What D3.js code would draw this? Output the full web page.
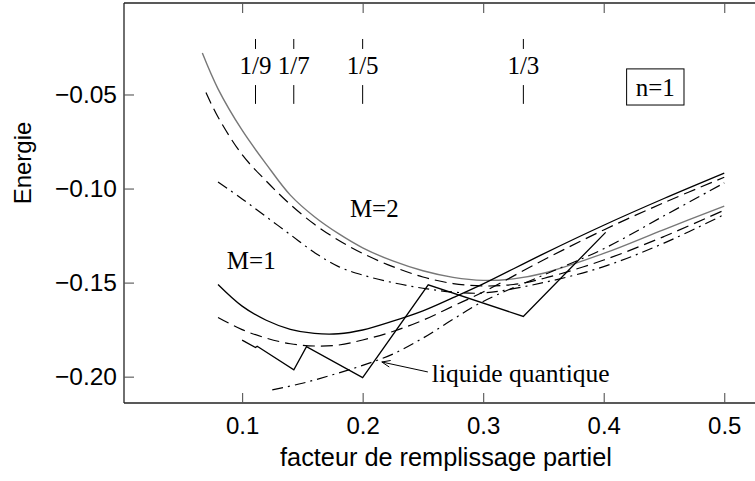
<!DOCTYPE html>
<html>
<head>
<meta charset="utf-8">
<script src="https://cdn.jsdelivr.net/npm/d3@7"></script>
<style>
  html, body { margin: 0; padding: 0; background: #fff; }
  svg { display: block; }
</style>
</head>
<body>
<div id="chart"></div>
<script>
// ---------- data ----------
const xTicks = [0.1, 0.2, 0.3, 0.4, 0.5];
const yTicks = [-0.05, -0.10, -0.15, -0.20];
const yTickLabels = ["\u22120.05", "\u22120.10", "\u22120.15", "\u22120.20"];
const fractions = [1/9, 1/7, 1/5, 1/3];
const fractionLabels = ["1/9", "1/7", "1/5", "1/3"];

// M=2 family
const m2SolidX = [0.067, 0.08, 0.10, 0.12, 0.14, 0.16, 0.18, 0.20, 0.225, 0.25, 0.275, 0.30, 0.325, 0.35, 0.40, 0.45, 0.50];
const m2SolidY = [-0.028, -0.047, -0.069, -0.087, -0.1035, -0.1150, -0.1240, -0.1315, -0.1385, -0.1437, -0.1472, -0.1488, -0.1480, -0.1450, -0.1345, -0.1218, -0.1093];
const m2DashX = [0.07, 0.08, 0.10, 0.12, 0.14, 0.16, 0.18, 0.20, 0.225, 0.25, 0.275, 0.30, 0.325, 0.35, 0.40, 0.45, 0.50];
const m2DashY = [-0.049, -0.062, -0.082, -0.096, -0.1085, -0.1190, -0.1275, -0.1345, -0.1415, -0.1470, -0.1505, -0.1518, -0.1510, -0.1478, -0.1380, -0.1255, -0.1115];
const m2DotX = [0.08, 0.10, 0.12, 0.14, 0.16, 0.18, 0.20, 0.225, 0.25, 0.275, 0.30, 0.35, 0.40, 0.45, 0.50];
const m2DotY = [-0.0965, -0.1055, -0.115, -0.1245, -0.134, -0.1415, -0.146, -0.150, -0.153, -0.155, -0.1555, -0.150, -0.1415, -0.129, -0.1138];

// M=1 family
const m1SolidX = [0.08, 0.10, 0.12, 0.14, 0.16, 0.18, 0.20, 0.225, 0.25, 0.275, 0.30, 0.35, 0.40, 0.45, 0.50];
const m1SolidY = [-0.151, -0.1625, -0.170, -0.1748, -0.177, -0.1772, -0.1752, -0.1705, -0.165, -0.158, -0.1507, -0.1347, -0.1195, -0.1053, -0.0918];
const m1DashX = [0.08, 0.10, 0.12, 0.14, 0.16, 0.18, 0.20, 0.225, 0.25, 0.275, 0.30, 0.35, 0.40, 0.45, 0.50];
const m1DashY = [-0.1685, -0.175, -0.1795, -0.1825, -0.1837, -0.1832, -0.1805, -0.176, -0.170, -0.1625, -0.155, -0.138, -0.122, -0.1075, -0.094];
const m1DotX = [0.125, 0.15, 0.175, 0.20, 0.225, 0.25, 0.275, 0.30, 0.35, 0.40, 0.45, 0.50];
const m1DotY = [-0.207, -0.2035, -0.199, -0.194, -0.188, -0.1795, -0.1695, -0.160, -0.146, -0.132, -0.1145, -0.097];

// liquide quantique (zigzag)
const lqX = [0.10, 0.1111, 0.1125, 0.1429, 0.1534, 0.20, 0.2544, 0.3333, 0.4016];
const lqY = [-0.1806, -0.1845, -0.1838, -0.1963, -0.1840, -0.2005, -0.1512, -0.1680, -0.1233];

// ---------- layout ----------
const W = 755, H = 481;
const svg = d3.select("#chart").append("svg").attr("width", W).attr("height", H);
svg.append("rect").attr("width", W).attr("height", H).attr("fill", "#fff");

const x = d3.scaleLinear().domain([0.002, 0.5363]).range([124, 768]);
const y = d3.scaleLinear().domain([-0.214, -0.00137]).range([403, 3]);

const sans = "'Liberation Sans', Arial, Helvetica, sans-serif";
const serif = "'Liberation Serif', 'Times New Roman', Times, serif";

// axes
const axisColor = "#222";
const xb = d3.axisBottom(x).tickValues(xTicks).tickSize(-10).tickFormat(d3.format(".1f")).tickPadding(14);
const gxb = svg.append("g").attr("transform", `translate(0,${y.range()[0]})`).call(xb);
const xt = d3.axisTop(x).tickValues(xTicks).tickSize(-10).tickFormat("");
const gxt = svg.append("g").attr("transform", `translate(0,${y.range()[1]})`).call(xt);
const yl = d3.axisLeft(y).tickValues(yTicks).tickSize(-10).tickFormat((d, i) => yTickLabels[i]).tickPadding(7);
const gyl = svg.append("g").attr("transform", `translate(${x.range()[0]},0)`).call(yl);

[gxb, gxt, gyl].forEach(g => {
  g.select(".domain").attr("stroke", axisColor).attr("stroke-width", 1.3);
  g.selectAll(".tick line").attr("stroke", "#555").attr("stroke-width", 1.1);
  g.selectAll(".tick text").attr("fill", "#000").style("font-family", sans).style("font-size", "24px");
});
gyl.selectAll(".tick text").style("font-size", "24.5px");
gxb.select(".domain").attr("d", `M${x.range()[0]},0H${x.range()[1]}`);
gxt.select(".domain").attr("d", `M${x.range()[0]},0H${x.range()[1]}`);
gyl.select(".domain").attr("d", `M0,${y.range()[0]}V${y.range()[1]}`);

// axis titles
svg.append("text").attr("x", (x.range()[0] + x.range()[1]) / 2).attr("y", 466)
  .attr("text-anchor", "middle").style("font-family", sans).style("font-size", "25.3px")
  .text("facteur de remplissage partiel");
svg.append("text").attr("transform", "translate(31,163) rotate(-90)")
  .attr("text-anchor", "middle").style("font-family", sans).style("font-size", "24px")
  .text("Energie");

// curves
const plot = svg.append("g");
const smooth = d3.line().x(d => x(d[0])).y(d => y(d[1])).curve(d3.curveCatmullRom.alpha(0.5));
const straight = d3.line().x(d => x(d[0])).y(d => y(d[1]));
const zip = (a, b) => a.map((v, i) => [v, b[i]]);

const series = [
  { xs: m2DotX, ys: m2DotY, color: "#000", dash: "11,5,2,5", w: 1.2, gen: smooth },
  { xs: m2DashX, ys: m2DashY, color: "#000", dash: "12,6", w: 1.2, gen: smooth },
  { xs: m2SolidX, ys: m2SolidY, color: "#777", dash: null, w: 1.4, gen: smooth },
  { xs: m1DotX, ys: m1DotY, color: "#000", dash: "11,5,2,5", w: 1.2, gen: smooth },
  { xs: m1DashX, ys: m1DashY, color: "#000", dash: "12,6", w: 1.2, gen: smooth },
  { xs: m1SolidX, ys: m1SolidY, color: "#000", dash: null, w: 1.3, gen: smooth },
  { xs: lqX, ys: lqY, color: "#000", dash: null, w: 1.3, gen: straight }
];
series.forEach(s => {
  plot.append("path").attr("d", s.gen(zip(s.xs, s.ys)))
    .attr("fill", "none").attr("stroke", s.color).attr("stroke-width", s.w)
    .attr("stroke-dasharray", s.dash);
});

// fraction markers
fractions.forEach((f, i) => {
  plot.append("line").attr("x1", x(f)).attr("x2", x(f)).attr("y1", y(-0.0205)).attr("y2", y(-0.0258))
    .attr("stroke", "#000").attr("stroke-width", 1);
  plot.append("line").attr("x1", x(f)).attr("x2", x(f)).attr("y1", y(-0.045)).attr("y2", y(-0.055))
    .attr("stroke", "#000").attr("stroke-width", 1);
  plot.append("text").attr("x", x(f)).attr("y", y(-0.0391)).attr("text-anchor", "middle")
    .style("font-family", serif).style("font-size", "25px").text(fractionLabels[i]);
});

// n=1 box
const bx0 = x(0.4190), bx1 = x(0.4666), by0 = y(-0.0364), by1 = y(-0.0556);
plot.append("rect").attr("x", bx0).attr("y", by0).attr("width", bx1 - bx0).attr("height", by1 - by0)
  .attr("fill", "#fff").attr("stroke", "#000").attr("stroke-width", 1);
plot.append("text").attr("x", (bx0 + bx1) / 2).attr("y", y(-0.0510)).attr("text-anchor", "middle")
  .style("font-family", serif).style("font-size", "25px").text("n=1");

// labels
plot.append("text").attr("x", x(0.1894)).attr("y", y(-0.1151))
  .style("font-family", serif).style("font-size", "25px").text("M=2");
plot.append("text").attr("x", x(0.0873)).attr("y", y(-0.1428))
  .style("font-family", serif).style("font-size", "25px").text("M=1");
plot.append("text").attr("x", x(0.2574)).attr("y", y(-0.2028))
  .style("font-family", serif).style("font-size", "25.5px").text("liquide quantique");

// arrow
const ax0 = x(0.2541), ay0 = y(-0.1975), ax1 = x(0.2159), ay1 = y(-0.1922);
plot.append("line").attr("x1", ax0).attr("y1", ay0).attr("x2", ax1).attr("y2", ay1)
  .attr("stroke", "#000").attr("stroke-width", 1);
const ang = Math.atan2(ay1 - ay0, ax1 - ax0);
const hl = 9, spread = 0.38;
const p1 = [ax1 - hl * Math.cos(ang - spread), ay1 - hl * Math.sin(ang - spread)];
const p2 = [ax1 - hl * Math.cos(ang + spread), ay1 - hl * Math.sin(ang + spread)];
plot.append("path").attr("d", `M${p1[0]},${p1[1]}L${ax1},${ay1}L${p2[0]},${p2[1]}`)
  .attr("fill", "none").attr("stroke", "#000").attr("stroke-width", 1);
</script>
</body>
</html>
